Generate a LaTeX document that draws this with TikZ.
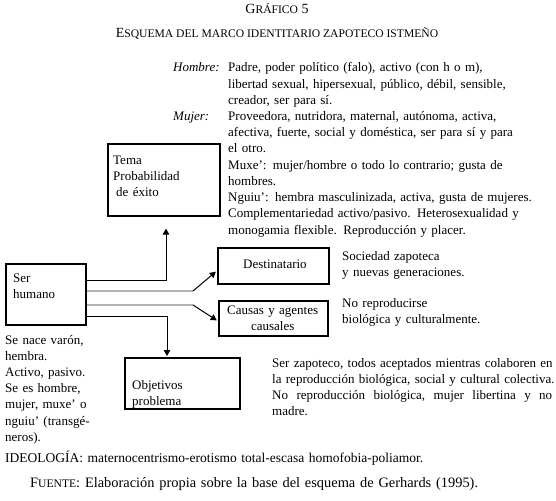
\documentclass[tikz,border=0pt]{standalone}
\usepackage{fontspec}
\setmainfont{Liberation Serif}
\usetikzlibrary{arrows.meta}
\newcommand\scl[1]{{\fontsize{11.6}{12}\selectfont #1}}
\begin{document}
\begin{tikzpicture}[x=1pt,y=-1pt,
  font=\fontsize{13}{16.2}\selectfont,
  box/.style={draw, line width=1.6pt, inner sep=0, anchor=north west},
  txt/.style={anchor=base west, inner sep=0, align=left, text width=#1},
  txt/.default=300pt,
  conn/.style={line width=1pt},
  arr/.style={conn, -{Triangle[length=6pt,width=6.5pt]}},
  greyl/.style={line width=2.4pt, color=black!30}]
\useasboundingbox (0,0) rectangle (556,500);

% titles
\node[inner sep=0, anchor=base] (t1) at (277,14) {\fontsize{14}{14}\selectfont G\scl{RÁFICO} 5};
\node[inner sep=0, anchor=base] (t2) at (277,38) {\fontsize{14}{14}\selectfont E\scl{SQUEMA DEL MARCO IDENTITARIO ZAPOTECO ISTMEÑO}};

% boxes
\node[box, minimum width=112pt, minimum height=72pt] (tema) at (107,143) {};
\node[box, minimum width=80pt, minimum height=61pt] (ser) at (5,263) {};
\node[box, minimum width=111pt, minimum height=36pt] (dest) at (217,247) {};
\node[box, minimum width=109pt, minimum height=35pt] (caus) at (218,300) {};
\node[box, minimum width=115pt, minimum height=51pt] (obj) at (124,357) {};

% box texts
\node[txt=100pt] (tematxt) at (113,164) {Tema\\Probabilidad\\\hspace{3pt}de éxito};
\node[txt=70pt] (sertxt) at (13,282) {Ser\\humano};
\node[txt=100pt] (desttxt) at (243,268) {Destinatario};
\node[txt=109pt, align=center] (caustxt) at (218,314) {Causas y agentes\\causales};
\node[txt=100pt] (objtxt) at (132,389) {Objetivos\\problema};

% right-hand texts
\node[txt=60pt] (hlab) at (173,72) {\itshape Hombre:};
\node[txt=60pt] (mlab) at (173,120.6) {\itshape Mujer:};
\node[txt=330pt] (block) at (228,72) {Padre, poder político (falo), activo (con h o m),\\
libertad sexual, hipersexual, público, débil, sensible,\\
creador, ser para sí.\\
Proveedora, nutridora, maternal, autónoma, activa,\\
afectiva, fuerte, social y doméstica, ser para sí y para\\
el otro.\\
Muxe': mujer/hombre o todo lo contrario; gusta de\\
hombres.\\
Nguiu': hembra masculinizada, activa, gusta de mujeres.\\
Complementariedad activo/pasivo. Heterosexualidad y\\
monogamia flexible. Reproducción y placer.};

\node[txt=200pt] (soc) at (342,260) {Sociedad zapoteca\\y nuevas generaciones.};
\node[txt=200pt] (norep) at (342,307) {No reproducirse\\biológica y culturalmente.};

\node[txt=110pt] (left) at (5,344) {Se nace varón,\\hembra.\\Activo, pasivo.\\Se es hombre,\\mujer, muxe' o\\nguiu' (transgé-\\neros).};

\node[txt=280pt] (zap) at (272,367) {\makebox[280pt][s]{Ser zapoteco, todos aceptados mientras colaboren en}\\
\makebox[280pt][s]{la reproducción biológica, social y cultural colectiva.}\\
\makebox[280pt][l]{No\hfill reproducción\hfill biológica,\hfill mujer\hfill libertina\hfill y\hfill no}\\
madre.};

\node[txt=550pt, font=\fontsize{13.5}{16}\selectfont] (ideo) at (5,462) {IDEOLOGÍA: maternocentrismo-erotismo total-escasa homofobia-poliamor.};
\node[txt=520pt, font=\fontsize{14.4}{16}\selectfont] (fuente) at (30,487) {F\scl{UENTE}: Elaboración propia sobre la base del esquema de Gerhards (1995).};

% connectors
\coordinate (c1) at (166,280);
\coordinate (c2) at (167,316);
\coordinate (g1) at (193,291);
\coordinate (g2) at (193,305);
\draw[arr, shorten >=12pt] (ser.east |- c1) -- (c1) -- (c1 |- tema.south);
\draw[arr, shorten >=1pt] (ser.east |- c2) -- (c2) -- (c2 |- obj.north);
\draw[greyl] (ser.east |- g1) -- (g1);
\draw[greyl] (ser.east |- g2) -- (g2);
\draw[arr, shorten >=1.5pt] (g1) -- (dest.185);
\draw[arr, shorten >=1.5pt] (g2) -- (caus.183);
\end{tikzpicture}
\end{document}
